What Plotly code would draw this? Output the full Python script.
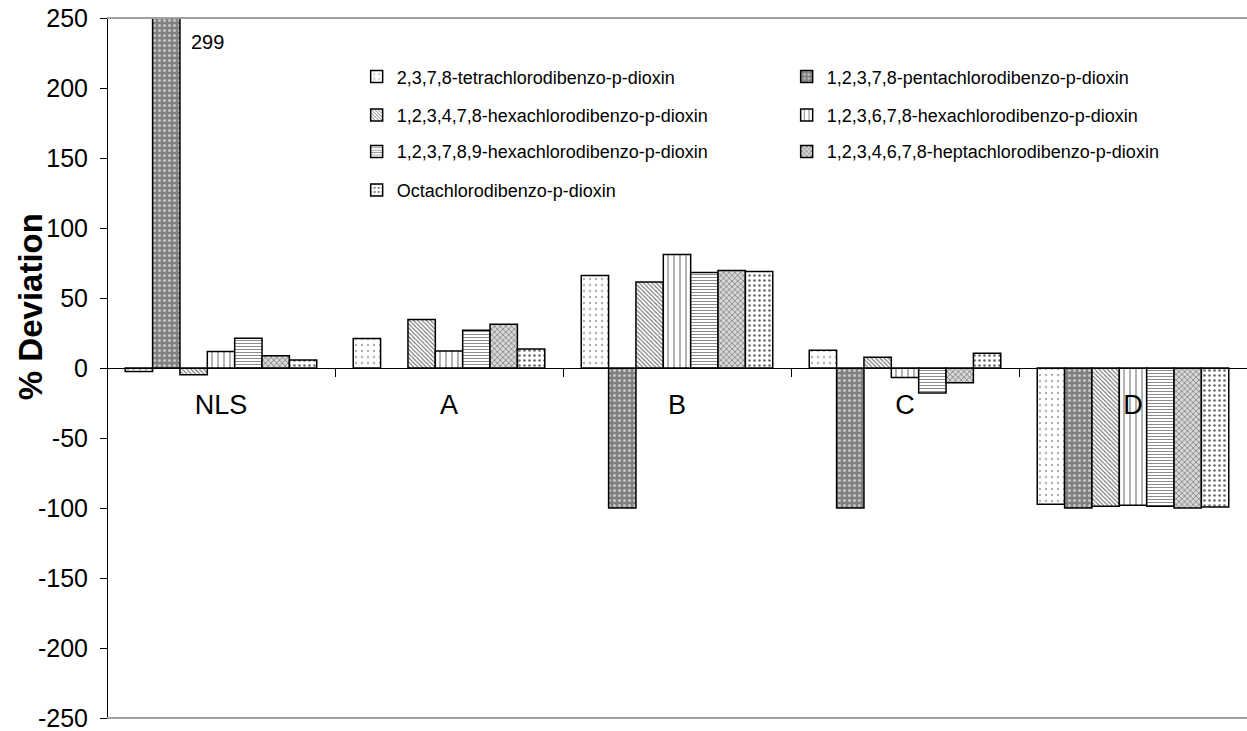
import plotly.graph_objects as go

# Sample groups along the x axis
categories = ["NLS", "A", "B", "C", "D"]

# % deviation per congener (None = not reported)
tcdd_2378 = [-2.5, 21.0, 66.0, 12.6, -97.4]
pecdd_12378 = [299.0, None, -100.0, -100.0, -100.0]
hxcdd_123478 = [-4.9, 34.6, 61.4, 7.6, -98.8]
hxcdd_123678 = [11.7, 12.2, 81.0, -6.7, -98.1]
hxcdd_123789 = [21.3, 27.0, 68.3, -17.9, -98.8]
hpcdd_1234678 = [8.8, 31.3, 69.7, -10.5, -100.0]
ocdd = [5.7, 13.6, 69.0, 10.5, -99.3]

series_names = [
    "2,3,7,8-tetrachlorodibenzo-p-dioxin",
    "1,2,3,7,8-pentachlorodibenzo-p-dioxin",
    "1,2,3,4,7,8-hexachlorodibenzo-p-dioxin",
    "1,2,3,6,7,8-hexachlorodibenzo-p-dioxin",
    "1,2,3,7,8,9-hexachlorodibenzo-p-dioxin",
    "1,2,3,4,6,7,8-heptachlorodibenzo-p-dioxin",
    "Octachlorodibenzo-p-dioxin",
]
series_values = [tcdd_2378, pecdd_12378, hxcdd_123478, hxcdd_123678,
                 hxcdd_123789, hpcdd_1234678, ocdd]

# Y axis ticks (plain hyphen for negatives)
y_ticks = [250, 200, 150, 100, 50, 0, -50, -100, -150, -200, -250]
y_tick_text = ["250", "200", "150", "100", "50", "0", "-50", "-100", "-150", "-200", "-250"]

# Fill style for each congener: (background, pattern shape, pattern colour, size, solidity)
fills = [
    ("#ffffff", ".", "#b0b0b0", 6, 0.12),
    ("#808080", ".", "#c4c4c4", 5, 0.30),
    ("#ffffff", "\\", "#6a6a6a", 3, 0.35),
    ("#ffffff", "|", "#808080", 6, 0.20),
    ("#ffffff", "-", "#808080", 3, 0.30),
    ("#d8d8d8", "x", "#6a6a6a", 4, 0.30),
    ("#ffffff", ".", "#6a6a6a", 5, 0.22),
]

# Legend rows (two entries per row)
legend_of = ["legend", "legend", "legend2", "legend2", "legend3", "legend3", "legend4"]

FONT = "Liberation Sans, Arial, sans-serif"

fig = go.Figure()
for name, vals, (bg, shape, fg, size, sol), lg in zip(series_names, series_values, fills, legend_of):
    fig.add_trace(go.Bar(
        x=categories,
        y=vals,
        name=name,
        legend=lg,
        marker=dict(
            color=bg,
            line=dict(color="black", width=1.5),
            pattern=dict(shape=shape, fgcolor=fg, bgcolor=bg, size=size,
                         solidity=sol, fillmode="replace"),
        ),
    ))

row_y = [0.916, 0.861, 0.809, 0.754]
legend_common = dict(
    orientation="h", x=0.219, xanchor="left", yanchor="middle",
    entrywidth=385, entrywidthmode="pixels",
    font=dict(family=FONT, size=18, color="black"),
    bgcolor="rgba(0,0,0,0)", borderwidth=0, itemwidth=30,
)

fig.update_layout(
    width=1247, height=731,
    margin=dict(l=107, r=0, t=18, b=13),
    paper_bgcolor="white", plot_bgcolor="white",
    barmode="group", bargap=0.16, bargroupgap=0,
    font=dict(family=FONT, color="black"),
    showlegend=True,
    legend=dict(y=row_y[0], **legend_common),
    legend2=dict(y=row_y[1], **legend_common),
    legend3=dict(y=row_y[2], **legend_common),
    legend4=dict(y=row_y[3], **legend_common),
    xaxis=dict(
        type="category", anchor="free", position=0.5,
        showline=True, linecolor="black", linewidth=1,
        ticks="outside", tickson="boundaries", ticklen=8, tickcolor="black",
        tickfont=dict(family=FONT, size=27, color="black"),
        ticklabelstandoff=13,
        showgrid=False, zeroline=False,
    ),
    yaxis=dict(
        range=[-250, 250], tickmode="array", tickvals=y_ticks, ticktext=y_tick_text,
        anchor="free", position=0,
        showline=True, linecolor="black", linewidth=1,
        ticks="outside", ticklen=7, tickcolor="black",
        tickfont=dict(family=FONT, size=25, color="black"),
        ticklabelstandoff=7, ticklabeloverflow="allow",
        showgrid=False, zeroline=False,
    ),
    shapes=[
        dict(type="line", xref="paper", yref="paper", x0=0, x1=1, y0=1, y1=1,
             line=dict(color="#a0a0a0", width=2)),
        dict(type="line", xref="paper", yref="paper", x0=0, x1=1, y0=0, y1=0,
             line=dict(color="#a0a0a0", width=2)),
    ],
    annotations=[
        dict(x="NLS", y=233, xref="x", yref="y", text=str(int(pecdd_12378[0])),
             showarrow=False, xshift=-14,
             font=dict(family=FONT, size=20, color="black")),
        dict(x=-0.0675, y=0.587, xref="paper", yref="paper", text="<b>% Deviation</b>",
             textangle=-90, showarrow=False, xanchor="center", yanchor="middle",
             font=dict(family=FONT, size=33, color="black")),
    ],
)

fig.write_html("out.html")
